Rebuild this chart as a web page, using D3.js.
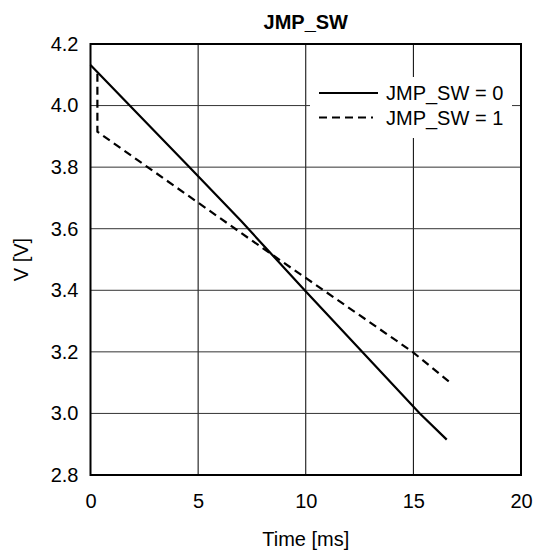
<!DOCTYPE html>
<html>
<head>
<meta charset="utf-8">
<script src="https://cdn.jsdelivr.net/npm/d3@7"></script>
<style>
  html, body { margin: 0; padding: 0; background: #fff; }
  svg { display: block; font-family: "Liberation Sans", Arial, sans-serif; }
</style>
</head>
<body>
<svg id="chart" width="533" height="553"></svg>
<script>
// ---- data ----
const title = "JMP_SW";
const xLabel = "Time [ms]";
const yLabel = "V [V]";
const xTicks = [0, 5, 10, 15, 20];
const yTicks = [2.8, 3.0, 3.2, 3.4, 3.6, 3.8, 4.0, 4.2];
const seriesNames = ["JMP_SW = 0", "JMP_SW = 1"];
const series0 = [
  [0, 4.132], [4.6, 3.8], [7.0, 3.625], [9.95, 3.4], [15.3, 3.0], [16.55, 2.915]
];
const series1 = [
  [0.32, 4.103], [0.32, 3.915], [8.1, 3.532], [14.96, 3.2], [16.68, 3.102]
];
const seriesDash = [null, "8,5"];

// ---- layout ----
const svg = d3.select("#chart");
const pLeft = 90.5, pRight = 521, pTop = 44, pBottom = 475;
const x = d3.scaleLinear().domain([0, 20]).range([pLeft, pRight]);
const y = d3.scaleLinear().domain([2.8, 4.2]).range([pBottom, pTop]);
const fs = 20;

// grid
svg.append("g").selectAll("line").data(xTicks.slice(1, -1)).join("line")
  .attr("x1", d => x(d)).attr("x2", d => x(d))
  .attr("y1", pTop).attr("y2", pBottom)
  .attr("stroke", "#000").attr("stroke-width", 1);
svg.append("g").selectAll("line").data(yTicks.slice(1, -1)).join("line")
  .attr("y1", d => y(d)).attr("y2", d => y(d))
  .attr("x1", pLeft).attr("x2", pRight)
  .attr("stroke", "#333").attr("stroke-width", 1);

// axes (labels only)
const xAxis = d3.axisBottom(x).tickValues(xTicks).tickSize(0).tickPadding(19).tickFormat(d3.format("d"));
const gx = svg.append("g").attr("transform", `translate(0,${pBottom})`).call(xAxis);
gx.select(".domain").remove();
gx.selectAll("text").attr("font-size", fs).attr("fill", "#000").attr("font-family", "Liberation Sans, Arial, sans-serif");

const yAxis = d3.axisLeft(y).tickValues(yTicks).tickSize(0).tickPadding(12).tickFormat(d3.format(".1f"));
const gy = svg.append("g").attr("transform", `translate(${pLeft},0)`).call(yAxis);
gy.select(".domain").remove();
gy.selectAll("text").attr("font-size", fs).attr("fill", "#000").attr("font-family", "Liberation Sans, Arial, sans-serif");

// legend background
svg.append("rect").attr("x", 310).attr("y", 77).attr("width", 202).attr("height", 61).attr("fill", "#fff");

// lines
const line = d3.line().x(d => x(d[0])).y(d => y(d[1]));
[series0, series1].forEach((s, i) => {
  svg.append("path").datum(s).attr("d", line)
    .attr("fill", "none").attr("stroke", "#000").attr("stroke-width", 2.2)
    .attr("stroke-dasharray", seriesDash[i]);
});

// frame
svg.append("rect").attr("x", pLeft).attr("y", pTop).attr("width", pRight - pLeft).attr("height", pBottom - pTop)
  .attr("fill", "none").attr("stroke", "#000").attr("stroke-width", 2);

// legend
const lg = svg.append("g");
seriesNames.forEach((n, i) => {
  const yy = 93 + i * 24.5;
  lg.append("line").attr("x1", 319).attr("x2", i === 0 ? 378 : 373).attr("y1", yy).attr("y2", yy)
    .attr("stroke", "#000").attr("stroke-width", 2.2).attr("stroke-dasharray", seriesDash[i]);
  lg.append("text").attr("x", 386).attr("y", yy + 7).attr("font-size", fs).text(n);
});

// titles
svg.append("text").attr("x", (pLeft + pRight) / 2).attr("y", 29).attr("text-anchor", "middle")
  .attr("font-size", fs).attr("font-weight", "bold").text(title);
svg.append("text").attr("x", (pLeft + pRight) / 2).attr("y", 546).attr("text-anchor", "middle")
  .attr("font-size", fs).text(xLabel);
svg.append("text").attr("transform", `translate(28,${(pTop + pBottom) / 2}) rotate(-90)`)
  .attr("text-anchor", "middle").attr("font-size", fs).text(yLabel);
</script>
</body>
</html>
